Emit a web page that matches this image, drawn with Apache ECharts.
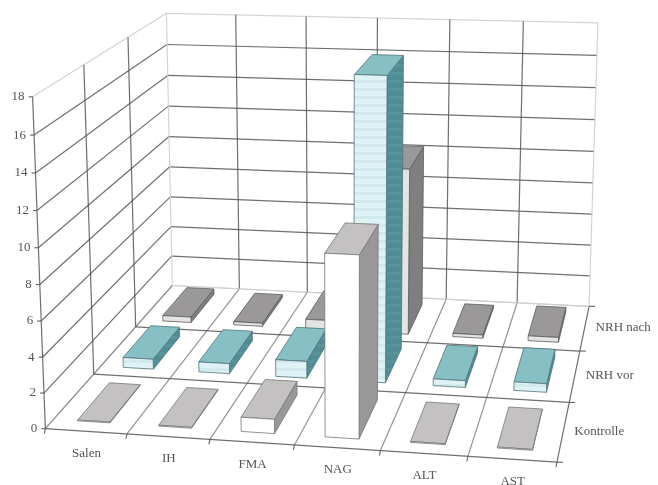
<!DOCTYPE html>
<html>
<head>
<meta charset="utf-8">
<style>html,body{margin:0;padding:0;background:#fff}#chart{width:658px;height:485px}</style>
<script src="https://cdn.jsdelivr.net/npm/echarts@6/dist/echarts.min.js"></script>
</head>
<body>
<div id="chart"></div>
<script>
// Enzyme readings per marker and treatment group
var categories = ['Salen', 'IH', 'FMA', 'NAG', 'ALT', 'AST'];
var seriesNames = ['Kontrolle', 'NRH vor', 'NRH nach'];
var kontrolle = [0.05, 0.05, 0.8, 10.0, 0.05, 0.05];
var nrhVor = [0.6, 0.6, 1.0, 17.6, 0.4, 0.5];
var nrhNach = [0.35, 0.2, 0.6, 10.25, 0.2, 0.3];
var valueTicks = [0, 2, 4, 6, 8, 10, 12, 14, 16, 18];

var VALUE_MAX = 18;
var FONT = '"Liberation Serif", serif';

// Camera calibration: box position (u across, w into depth, h up) -> page pixel
var anchors = [
  [0, 0, 0, 45, 428], [1, 0, 0, 557, 463], [0, 1, 0, 172, 287], [1, 1, 0, 589, 306],
  [0, 0, 1, 33, 97], [0, 1, 1, 166, 13], [1, 1, 1, 598, 23],
  [0, 1 / 3, 0, 93, 375], [0, 2 / 3, 0, 137, 325], [1, 1 / 3, 0, 569, 402], [1, 2 / 3, 0, 580, 351]
];

function solveCamera(points) {
  var n = 11, A = [], i, j, k;
  for (i = 0; i < n; i++) { A.push(new Array(n + 1).fill(0)); }
  function addRow(row, rhs) {
    for (var a = 0; a < n; a++) {
      for (var b = 0; b < n; b++) { A[a][b] += row[a] * row[b]; }
      A[a][n] += row[a] * rhs;
    }
  }
  points.forEach(function (p) {
    var u = p[0], w = p[1], h = p[2], x = p[3], y = p[4];
    addRow([u, w, h, 1, 0, 0, 0, 0, -x * u, -x * w, -x * h], x);
    addRow([0, 0, 0, 0, u, w, h, 1, -y * u, -y * w, -y * h], y);
  });
  for (i = 0; i < n; i++) {
    var best = i;
    for (j = i + 1; j < n; j++) { if (Math.abs(A[j][i]) > Math.abs(A[best][i])) { best = j; } }
    var t = A[i]; A[i] = A[best]; A[best] = t;
    for (j = 0; j < n; j++) {
      if (j === i) { continue; }
      var f = A[j][i] / A[i][i];
      for (k = i; k <= n; k++) { A[j][k] -= f * A[i][k]; }
    }
  }
  return A.map(function (r, idx) { return r[n] / r[idx]; });
}
var cam = solveCamera(anchors);

function project(u, w, h) {
  var d = cam[8] * u + cam[9] * w + cam[10] * h + 1;
  return [
    (cam[0] * u + cam[1] * w + cam[2] * h + cam[3]) / d,
    (cam[4] * u + cam[5] * w + cam[6] * h + cam[7]) / d
  ];
}

// Horizontal band fill used on the striped columns
function stripes(a, b, size) {
  var c = document.createElement('canvas');
  c.width = 4; c.height = size;
  var g = c.getContext('2d');
  g.fillStyle = a; g.fillRect(0, 0, 4, size);
  g.fillStyle = b; g.fillRect(0, 0, 4, Math.ceil(size / 3));
  return { image: c, repeat: 'repeat' };
}

var looks = [
  { front: '#ffffff', top: '#c3c1c1', side: '#999797', edge: '#777777' },
  { front: stripes('#dff2f5', '#d2e9ee', 8), top: '#86bfc4', side: stripes('#4f8c95', '#58939b', 8), edge: '#4f757a' },
  { front: '#e4e4e4', top: '#9a9898', side: '#7f7f7f', edge: '#5c5c5c' }
];

function line(a, b, color, width) {
  return {
    type: 'line',
    shape: { x1: a[0], y1: a[1], x2: b[0], y2: b[1] },
    style: { stroke: color, lineWidth: width || 1.2, opacity: 0.85 },
    silent: true
  };
}
function label(text, x, y, align) {
  return {
    type: 'text',
    style: { text: text, x: x, y: y, align: align, verticalAlign: 'middle', fill: '#555555', font: '13px ' + FONT },
    silent: true
  };
}
function face(points, fill, edge) {
  return {
    type: 'polygon',
    shape: { points: points },
    style: { fill: fill, stroke: edge, lineWidth: 0.8 },
    silent: true
  };
}

// Walls, floor, ticks and tick labels of the box
function renderFrame(params, api) {
  var rect = params.coordSys;
  var kids = [];
  var dark = '#565656', mid = '#808080', pale = '#cccccc';
  var i;

  valueTicks.forEach(function (t) {
    var h = (rect.y + rect.height - api.coord([0, t])[1]) / rect.height;
    var isTop = t === VALUE_MAX, isBase = t === 0;
    kids.push(line(project(0, 1, h), project(1, 1, h), isTop || isBase ? pale : dark));
    kids.push(line(project(0, 0, h), project(0, 1, h), isTop || isBase ? pale : dark));
    var p = project(0, 0, h);
    kids.push(line([p[0] - 4, p[1]], p, dark));
    kids.push(label(String(t), p[0] - 8, p[1], 'right'));
  });

  for (i = 0; i <= categories.length; i++) {
    var u = i / categories.length;
    var edge = i === 0 || i === categories.length;
    kids.push(line(project(u, 1, 0), project(u, 1, 1), edge ? pale : dark));
    kids.push(line(project(u, 0, 0), project(u, 1, 0), edge && i === categories.length ? dark : mid));
    var f = project(u, 0, 0);
    kids.push(line(f, [f[0] - 1, f[1] + 5], dark));
  }
  for (i = 1; i < seriesNames.length; i++) {
    var w = i / seriesNames.length;
    kids.push(line(project(0, w, 0), project(0, w, 1), dark));
  }
  for (i = 0; i <= seriesNames.length; i++) {
    var d = i / seriesNames.length;
    kids.push(line(project(0, d, 0), project(1, d, 0), i === seriesNames.length ? pale : dark));
    var r = project(1, d, 0);
    kids.push(line(r, [r[0] + 6, r[1]], dark));
  }
  kids.push(line(project(0, 0, 0), project(0, 0, 1), dark));

  categories.forEach(function (name, c) {
    var p = project((c + 0.5) / categories.length, 0, 0);
    kids.push(label(name, p[0] + 0.5, p[1] + 22, 'center'));
  });
  seriesNames.forEach(function (name, s) {
    var p = project(1, (s + 0.5) / seriesNames.length, 0);
    kids.push(label(name, p[0] + 11, p[1], 'left'));
  });
  return { type: 'group', children: kids };
}

// One column: position and height come from the category and value axes
function barRenderer(row) {
  var BAR_FILL = 0.4, DEPTH_FILL = 0.68;
  return function (params, api) {
    var rect = params.coordSys;
    var pt = api.coord([api.value(0), api.value(1)]);
    var band = api.size([1, 0])[0];
    var u0 = (pt[0] - band * BAR_FILL / 2 - rect.x) / rect.width;
    var u1 = (pt[0] + band * BAR_FILL / 2 - rect.x) / rect.width;
    var h = (rect.y + rect.height - pt[1]) / rect.height;
    var w0 = (row + 0.5 - DEPTH_FILL / 2) / seriesNames.length;
    var w1 = (row + 0.5 + DEPTH_FILL / 2) / seriesNames.length;
    var look = looks[row];
    return {
      type: 'group',
      children: [
        face([project(u1, w0, 0), project(u1, w1, 0), project(u1, w1, h), project(u1, w0, h)], look.side, look.edge),
        face([project(u0, w0, h), project(u1, w0, h), project(u1, w1, h), project(u0, w1, h)], look.top, look.edge),
        face([project(u0, w0, 0), project(u1, w0, 0), project(u1, w0, h), project(u0, w0, h)], look.front, look.edge)
      ]
    };
  };
}

function barSeries(name, values, row) {
  return {
    type: 'custom',
    name: name,
    coordinateSystem: 'cartesian2d',
    renderItem: barRenderer(row),
    data: values.map(function (v, i) { return [i, v]; }),
    encode: { x: 0, y: 1 },
    z: 10 - row,
    clip: false,
    animation: false
  };
}

var chart = echarts.init(document.getElementById('chart'));
chart.setOption({
  backgroundColor: '#ffffff',
  animation: false,
  grid: { left: 0, right: 0, top: 0, bottom: 0 },
  xAxis: { type: 'category', data: categories, show: false },
  yAxis: { type: 'value', min: 0, max: VALUE_MAX, interval: 2, show: false },
  series: [
    {
      type: 'custom',
      name: 'frame',
      coordinateSystem: 'cartesian2d',
      renderItem: renderFrame,
      data: [[0, 0]],
      z: 1,
      clip: false,
      animation: false
    },
    barSeries(seriesNames[2], nrhNach, 2),
    barSeries(seriesNames[1], nrhVor, 1),
    barSeries(seriesNames[0], kontrolle, 0)
  ]
});
</script>
</body>
</html>
